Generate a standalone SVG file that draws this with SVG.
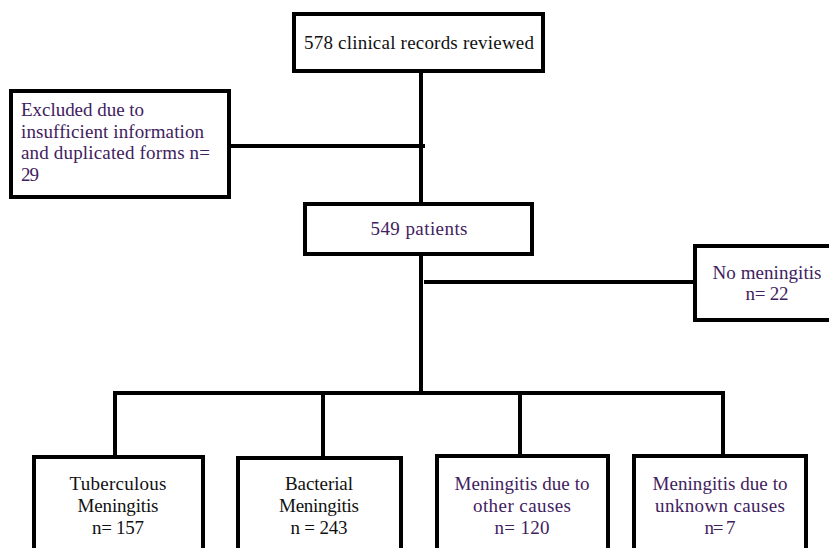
<svg xmlns="http://www.w3.org/2000/svg" width="829" height="548" viewBox="0 0 829 548">
<style>
  .box { fill: #ffffff; stroke: #000000; stroke-width: 4; }
  .conn line { stroke: #000000; stroke-width: 4; stroke-linecap: butt; }
  text { font-family: "Liberation Serif", "Times New Roman", serif; font-size: 19px; }
  .dark { fill: #111111; }
  .purple { fill: #3f2160; }
  .mid { text-anchor: middle; }
</style>
<rect width="829" height="548" fill="#ffffff"/>
<g id="connectors" class="conn">
  <line x1="421" y1="71" x2="421" y2="205"/>
  <line x1="231" y1="146" x2="425" y2="146"/>
  <line x1="421" y1="255" x2="421" y2="394"/>
  <line x1="424" y1="282" x2="700" y2="282"/>
  <line x1="113" y1="393" x2="725" y2="393"/>
  <line x1="115" y1="391" x2="115" y2="458"/>
  <line x1="323" y1="391" x2="323" y2="458"/>
  <line x1="520" y1="391" x2="520" y2="458"/>
  <line x1="723" y1="391" x2="723" y2="458"/>
</g>
<g id="records">
  <rect class="box" x="294" y="14" width="249" height="57"/>
  <text class="dark mid" x="419" y="49" font-size="19.5" textLength="230">578 clinical records reviewed</text>
</g>
<g id="excluded">
  <rect class="box" x="11" y="91" width="218" height="106"/>
  <text class="purple" x="21" y="116" textLength="123">Excluded due to</text>
  <text class="purple" x="21" y="138" textLength="183">insufficient information</text>
  <text class="purple" x="21" y="159" textLength="189">and duplicated forms n=</text>
  <text class="purple" x="21" y="181" textLength="18">29</text>
</g>
<g id="patients">
  <rect class="box" x="305" y="204" width="227" height="50"/>
  <text class="purple mid" x="419" y="235" textLength="97">549 patients</text>
</g>
<g id="no-meningitis">
  <rect class="box" x="695" y="246" width="150" height="74"/>
  <text class="purple mid" x="767" y="279" textLength="109">No meningitis</text>
  <text class="purple mid" x="767" y="300" textLength="43">n= 22</text>
</g>
<g id="tuberculous">
  <rect class="box" x="34" y="457" width="169" height="110"/>
  <text class="dark mid" x="118" y="490" textLength="97">Tuberculous</text>
  <text class="dark mid" x="118" y="512" textLength="81">Meningitis</text>
  <text class="dark mid" x="118" y="534" textLength="52">n= 157</text>
</g>
<g id="bacterial">
  <rect class="box" x="238" y="458" width="163" height="110"/>
  <text class="dark mid" x="319" y="490" textLength="68">Bacterial</text>
  <text class="dark mid" x="319" y="512" textLength="80">Meningitis</text>
  <text class="dark mid" x="319" y="534" textLength="57">n = 243</text>
</g>
<g id="other-causes">
  <rect class="box" x="437" y="456" width="171" height="110"/>
  <text class="purple mid" x="522" y="490" textLength="135">Meningitis due to</text>
  <text class="purple mid" x="522" y="512" textLength="98">other causes</text>
  <text class="purple mid" x="522" y="534" textLength="55">n= 120</text>
</g>
<g id="unknown-causes">
  <rect class="box" x="634" y="456" width="172" height="110"/>
  <text class="purple mid" x="720" y="490" textLength="135">Meningitis due to</text>
  <text class="purple mid" x="720" y="512" textLength="130">unknown causes</text>
  <text class="purple mid" x="720" y="534" textLength="31">n= 7</text>
</g>
</svg>
